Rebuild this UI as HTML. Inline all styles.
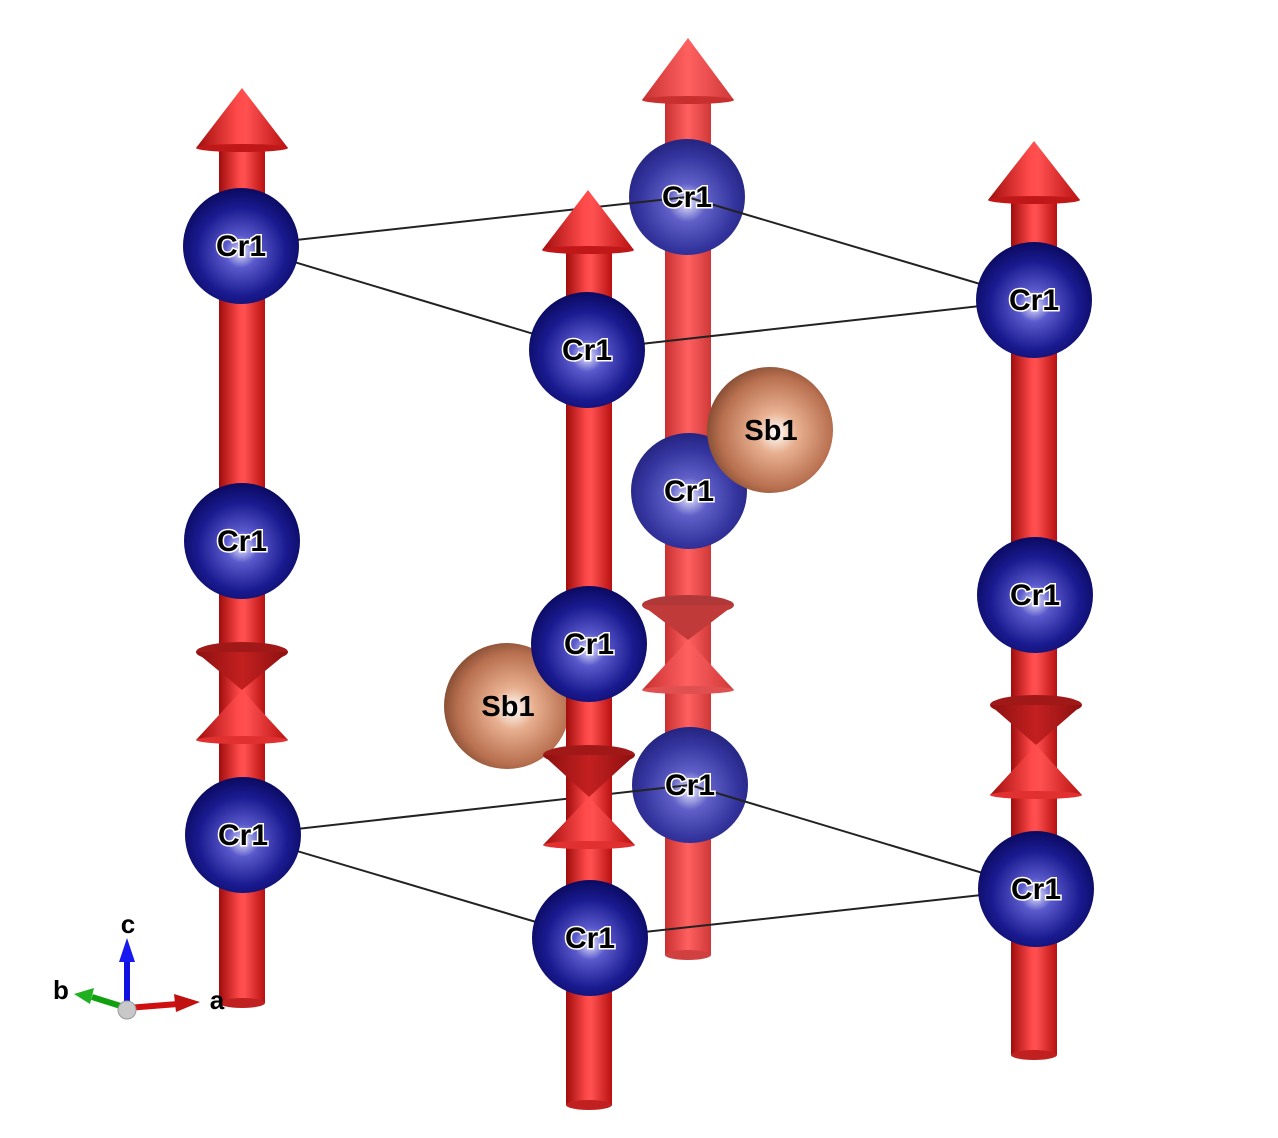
<!DOCTYPE html>
<html><head><meta charset="utf-8"><style>html,body{margin:0;padding:0;background:#fff}svg{display:block}
text{font-family:"Liberation Sans",sans-serif;font-weight:bold}</style></head><body>
<svg width="1278" height="1138" viewBox="0 0 1278 1138" xmlns="http://www.w3.org/2000/svg">
<defs>
<linearGradient id="cyl" x1="0" x2="1" y1="0" y2="0">
<stop offset="0" stop-color="#a00c0c"/><stop offset="0.45" stop-color="#ff4a4a"/><stop offset="0.55" stop-color="#ff5050"/><stop offset="1" stop-color="#b81010"/></linearGradient>
<linearGradient id="cylL" x1="0" x2="1" y1="0" y2="0">
<stop offset="0" stop-color="#c83030"/><stop offset="0.5" stop-color="#ff6060"/><stop offset="1" stop-color="#d03838"/></linearGradient>
<linearGradient id="dn" x1="0" x2="1"><stop offset="0" stop-color="#8c1010"/><stop offset="0.5" stop-color="#c42020"/><stop offset="1" stop-color="#8c1010"/></linearGradient>
<radialGradient id="cr" cx="0.5" cy="0.55" r="0.55"><stop offset="0" stop-color="#e8e8ff"/><stop offset="0.25" stop-color="#5a5acc"/><stop offset="0.7" stop-color="#1a1a90"/><stop offset="1" stop-color="#0a0a60"/></radialGradient>
<radialGradient id="crL" cx="0.5" cy="0.55" r="0.55"><stop offset="0" stop-color="#e8e8ff"/><stop offset="0.3" stop-color="#6060c8"/><stop offset="0.75" stop-color="#34349e"/><stop offset="1" stop-color="#242480"/></radialGradient>
<radialGradient id="sb" cx="0.55" cy="0.52" r="0.55"><stop offset="0" stop-color="#ffffff"/><stop offset="0.3" stop-color="#e8b090"/><stop offset="0.8" stop-color="#b87050"/><stop offset="1" stop-color="#8a5035"/></radialGradient>
</defs>

<!-- Column C (back) -->
<g>
<rect x="665" y="100" width="46" height="855" fill="url(#cylL)"/>
<ellipse cx="688" cy="955" rx="23" ry="5" fill="#d04040"/>
<polygon points="688,38 642,100 734,100" fill="url(#cylL)"/><ellipse cx="688" cy="100" rx="46" ry="4" fill="#c83030"/>
<ellipse cx="688" cy="605" rx="46" ry="10" fill="#b03838"/><polygon points="642,605 734,605 688,640" fill="#c03a3a"/>
<polygon points="688,640 642,690 734,690" fill="url(#cylL)"/><ellipse cx="688" cy="690" rx="46" ry="4" fill="#e05050"/>
<circle cx="687" cy="197" r="58" fill="url(#crL)"/>
<circle cx="689" cy="491" r="58" fill="url(#crL)"/>
<circle cx="690" cy="785" r="58" fill="url(#crL)"/>
</g>

<!-- cell lines -->
<g stroke="#222" stroke-width="2" fill="none">
<line x1="241" y1="246" x2="687" y2="197"/><line x1="241" y1="246" x2="587" y2="350"/>
<line x1="587" y1="350" x2="1034" y2="300"/><line x1="687" y1="197" x2="1034" y2="300"/>
<line x1="243" y1="835" x2="690" y2="785"/><line x1="243" y1="835" x2="590" y2="938"/>
<line x1="590" y1="938" x2="1036" y2="889"/><line x1="690" y1="785" x2="1036" y2="889"/>
</g>

<circle cx="770" cy="430" r="63" fill="url(#sb)"/>

<!-- Column A -->
<g>
<rect x="219" y="148" width="46" height="855" fill="url(#cyl)"/>
<ellipse cx="242" cy="1003" rx="23" ry="5" fill="#c02020"/>
<polygon points="242,88 196,148 288,148" fill="url(#cyl)"/><ellipse cx="242" cy="148" rx="46" ry="4" fill="#c01818"/>
<ellipse cx="242" cy="652" rx="46" ry="10" fill="#a01818"/><polygon points="196,652 288,652 242,690" fill="url(#dn)"/>
<polygon points="242,690 196,740 288,740" fill="url(#cyl)"/><ellipse cx="242" cy="740" rx="46" ry="4" fill="#e03030"/>
<circle cx="241" cy="246" r="58" fill="url(#cr)"/>
<circle cx="242" cy="541" r="58" fill="url(#cr)"/>
<circle cx="243" cy="835" r="58" fill="url(#cr)"/>
</g>

<!-- Column D -->
<g>
<rect x="1011" y="200" width="46" height="855" fill="url(#cyl)"/>
<ellipse cx="1034" cy="1055" rx="23" ry="5" fill="#c02020"/>
<polygon points="1034,141 988,200 1080,200" fill="url(#cyl)"/><ellipse cx="1034" cy="200" rx="46" ry="4" fill="#c01818"/>
<ellipse cx="1036" cy="705" rx="46" ry="10" fill="#a01818"/><polygon points="990,705 1082,705 1036,745" fill="url(#dn)"/>
<polygon points="1036,745 990,795 1082,795" fill="url(#cyl)"/><ellipse cx="1036" cy="795" rx="46" ry="4" fill="#e03030"/>
<circle cx="1034" cy="300" r="58" fill="url(#cr)"/>
<circle cx="1035" cy="595" r="58" fill="url(#cr)"/>
<circle cx="1036" cy="889" r="58" fill="url(#cr)"/>
</g>

<circle cx="507" cy="706" r="63" fill="url(#sb)"/>

<!-- Column B (front) -->
<g>
<rect x="566" y="250" width="46" height="855" fill="url(#cyl)"/>
<ellipse cx="589" cy="1105" rx="23" ry="5" fill="#c02020"/>
<polygon points="588,190 542,250 634,250" fill="url(#cyl)"/><ellipse cx="588" cy="250" rx="46" ry="4" fill="#c01818"/>
<ellipse cx="589" cy="755" rx="46" ry="10" fill="#a01818"/><polygon points="543,755 635,755 589,797" fill="url(#dn)"/>
<polygon points="589,797 543,845 635,845" fill="url(#cyl)"/><ellipse cx="589" cy="845" rx="46" ry="4" fill="#e03030"/>
<circle cx="587" cy="350" r="58" fill="url(#cr)"/>
<circle cx="589" cy="644" r="58" fill="url(#cr)"/>
<circle cx="590" cy="938" r="58" fill="url(#cr)"/>
</g>

<!-- labels -->
<g font-size="30" text-anchor="middle" fill="#000" stroke="#fff" stroke-width="3" paint-order="stroke">
<text x="687" y="207">Cr1</text><text x="689" y="501">Cr1</text><text x="690" y="795">Cr1</text>
<text x="241" y="256">Cr1</text><text x="242" y="551">Cr1</text><text x="243" y="845">Cr1</text>
<text x="1034" y="310">Cr1</text><text x="1035" y="605">Cr1</text><text x="1036" y="899">Cr1</text>
<text x="587" y="360">Cr1</text><text x="589" y="654">Cr1</text><text x="590" y="948">Cr1</text>
</g>
<g font-size="29" text-anchor="middle" fill="#000">
<text x="771" y="440">Sb1</text><text x="508" y="716">Sb1</text>
</g>

<!-- axes -->
<g>
<line x1="127" y1="1008" x2="127" y2="958" stroke="#1010e0" stroke-width="6"/>
<polygon points="127,938 119,962 135,962" fill="#1818f0"/>
<line x1="127" y1="1008" x2="92" y2="997" stroke="#10a010" stroke-width="6"/>
<polygon points="74,994 94,988 90,1004" fill="#20b020"/>
<line x1="127" y1="1008" x2="178" y2="1004" stroke="#d01010" stroke-width="6"/>
<polygon points="200,1002 174,994 176,1012" fill="#c01010"/>
<circle cx="127" cy="1010" r="9" fill="#c8c8c8" stroke="#999" stroke-width="1"/>
<text x="128" y="933" font-size="26" text-anchor="middle">c</text>
<text x="61" y="999" font-size="26" text-anchor="middle">b</text>
<text x="217" y="1009" font-size="26" text-anchor="middle">a</text>
</g>
</svg>
</body></html>
